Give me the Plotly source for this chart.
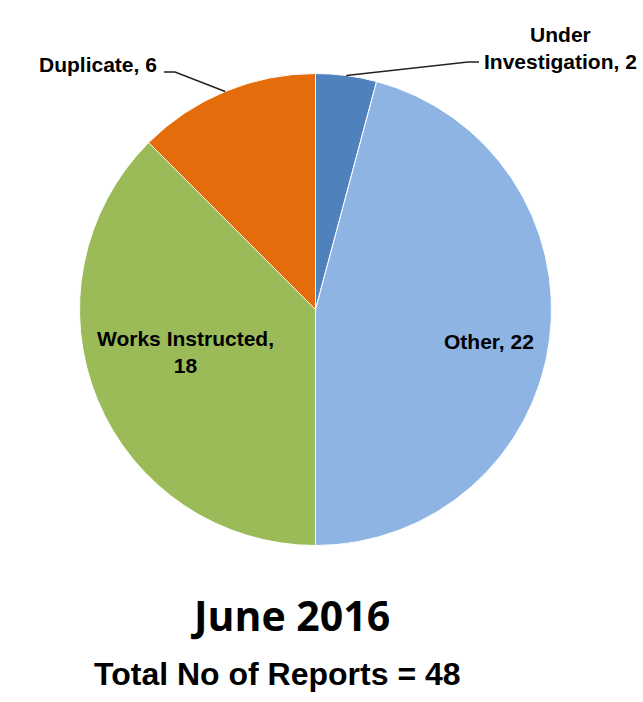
import math
import plotly.graph_objects as go

# Report outcomes for June 2016
labels = ["Under Investigation", "Other", "Works Instructed", "Duplicate"]
values = [2, 22, 18, 6]
colors = ["#4F81BD", "#8EB4E3", "#9BBB59", "#E46C0A"]

W, H = 643, 702
cx, cy, r = 315.5, 309.5, 236


def px(x):
    return x / W


def py(y):
    return 1 - y / H


def edge_point(i):
    # point on the rim at the middle of slice i (clockwise from 12 o'clock)
    total = sum(values)
    start = sum(values[:i]) / total * 360
    mid = math.radians(start + values[i] / total * 180)
    return cx + r * math.sin(mid), cy - r * math.cos(mid)


fig = go.Figure(go.Pie(
    labels=labels,
    values=values,
    marker=dict(colors=colors, line=dict(color="white", width=1)),
    sort=False,
    direction="clockwise",
    rotation=0,
    textinfo="none",
    hoverinfo="label+value",
    domain=dict(x=[px(cx - r), px(cx + r)], y=[py(cy + r), py(cy - r)]),
    showlegend=False,
))

lab_font = dict(family="Liberation Sans, Arial", size=21, color="black")


def label(x, y, text, xanchor="center"):
    fig.add_annotation(x=px(x), y=py(y), text=text, showarrow=False, font=lab_font,
                       xanchor=xanchor, yanchor="middle", align="center")


# data labels
label(185, 352, "<b>Works Instructed,</b><br><b>18</b>")
label(489, 341, "<b>Other, 22</b>")
label(159, 64, "<b>Duplicate, 6</b>", xanchor="right")
label(560, 48, "<b>Under</b><br><b>Investigation, 2</b>")

# leader lines
dx, dy = edge_point(3)
fig.add_shape(type="path", xref="paper", yref="paper",
              path=f"M {px(164)} {py(72)} L {px(175)} {py(72)} L {px(dx)} {py(dy)}",
              line=dict(color="#222222", width=1.5))
ux, uy = edge_point(0)
fig.add_shape(type="path", xref="paper", yref="paper",
              path=f"M {px(479)} {py(62)} L {px(468)} {py(62)} L {px(ux)} {py(uy)}",
              line=dict(color="#222222", width=1.5))

# titles under the pie
fig.add_annotation(x=px(290), y=py(615), text="<b>June 2016</b>", showarrow=False,
                   xanchor="center", yanchor="middle",
                   font=dict(family="Open Sans", size=41, color="black"))
fig.add_annotation(x=px(277), y=py(674), text="<b>Total No of Reports = 48</b>", showarrow=False,
                   xanchor="center", yanchor="middle",
                   font=dict(family="Liberation Sans, Arial", size=32, color="black"))

fig.update_layout(
    width=W, height=H,
    margin=dict(l=0, r=0, t=0, b=0),
    paper_bgcolor="white",
    plot_bgcolor="white",
)

# drop the default 8px body margin so the figure fills the window exactly
fig.write_html("out.html", config={"displayModeBar": False},
               post_script="document.body.style.margin='0';")
